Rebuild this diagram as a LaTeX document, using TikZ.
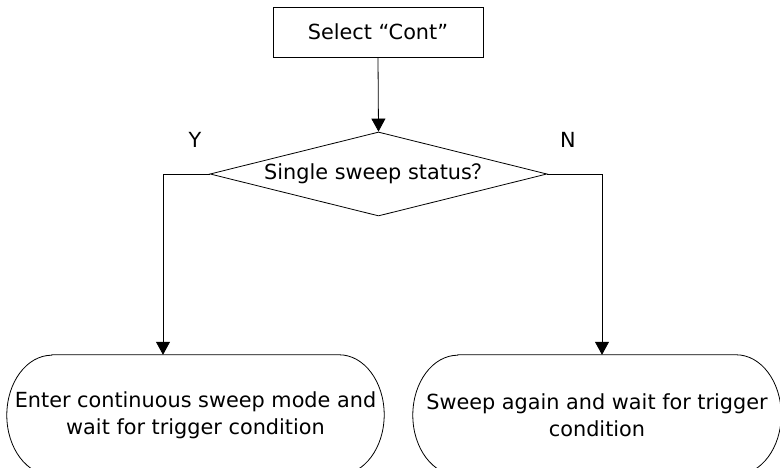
\documentclass[tikz,border=0pt]{standalone}
\usepackage{fontspec}
\setmainfont{DejaVu Sans}
\newfontfamily\cjk{Noto Sans CJK SC}
\usetikzlibrary{shapes.geometric,arrows.meta,calc}
\begin{document}
\begin{tikzpicture}[x=1pt,y=1pt,
  every node/.style={font=\fontsize{20.8}{27}\selectfont},
  line/.style={draw=black,line width=0.8pt},
  arr/.style={line,-{Triangle[width=14pt,length=13pt]}},
  proc/.style={draw,line width=0.8pt,minimum width=210pt,minimum height=50pt,inner sep=0},
  decis/.style={draw,diamond,aspect=4,line width=0.8pt,minimum width=337pt,minimum height=84pt,inner sep=0},
  term/.style={inner sep=0,align=center,minimum height=120pt}
]
\useasboundingbox (0,0) rectangle (780,468);
\node[proc] (sel) at (378,436) {Select “Cont”};
\node[decis] (dec) at (378.5,294) {Single sweep status{\cjk ？}};
\node (ylab) at (195,328) {Y};
\node (nlab) at (568,328) {N};
\node[term,minimum width=377pt] (t1) at (195.5,53) {Enter continuous sweep mode and\\wait for trigger condition};
\node[term,minimum width=368pt] (t2) at (597,53) {Sweep again and wait for trigger\\condition};
\foreach \t in {t1,t2}{
  \draw[line] ($(\t.north west)+(45,0)$) -- ($(\t.north east)+(-45,0)$)
    arc[start angle=90,end angle=-90,x radius=45,y radius=60]
    -- ($(\t.south west)+(45,0)$)
    arc[start angle=270,end angle=90,x radius=45,y radius=60] -- cycle;
}
\coordinate (cl) at (163,294);
\coordinate (cr) at (602,294);
\draw[arr] (sel.south) -- (dec.north);
\draw[arr] (dec.west) -- (cl) -- (cl |- t1.north);
\draw[arr] (dec.east) -- (cr) -- (cr |- t2.north);
\end{tikzpicture}
\end{document}
